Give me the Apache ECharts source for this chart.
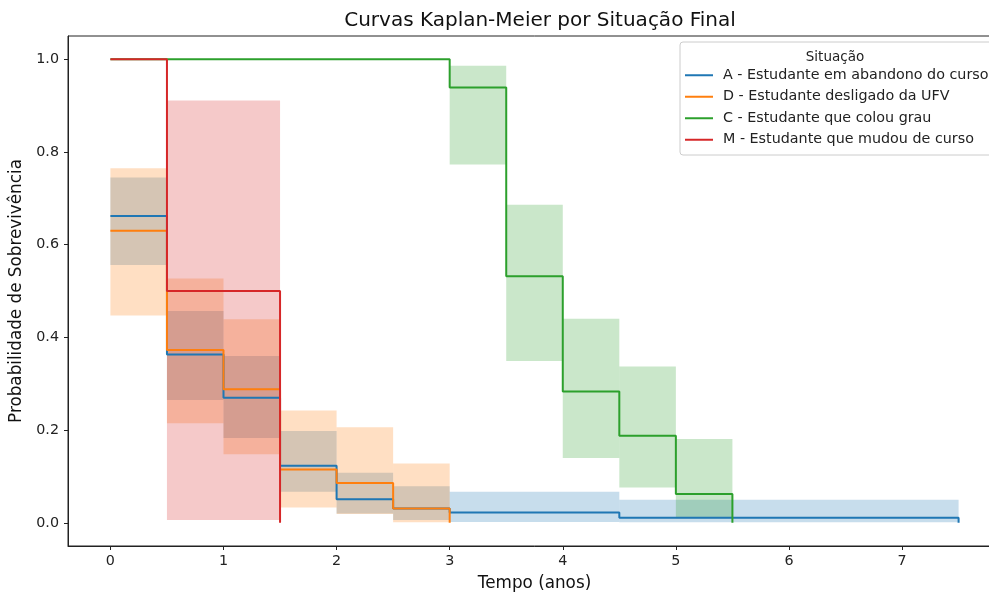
<!DOCTYPE html>
<html><head><meta charset="utf-8">
<script src="https://cdn.jsdelivr.net/npm/echarts@6/dist/echarts.min.js"></script>
<style>html,body{margin:0;padding:0;overflow:hidden;background:#fff}#c{width:1010px;height:593px}</style>
</head><body><div id="c"></div>
<script>
const xTicks = [0,1,2,3,4,5,6,7];
const yTicks = [0,0.2,0.4,0.6,0.8,1.0];
const names = ['A - Estudante em abandono do curso','D - Estudante desligado da UFV','C - Estudante que colou grau','M - Estudante que mudou de curso'];
const colors = ['#1f77b4','#ff7f0e','#2ca02c','#d62728'];
const fills = ['rgba(31,119,180,0.25)','rgba(255,127,14,0.25)','rgba(44,160,44,0.25)','rgba(214,39,40,0.25)'];

// A
const timesA = [0,0.5,1,1.5,2,2.5,3,4.5,7.5];
const survA  = [0.662,0.363,0.270,0.123,0.051,0.031,0.022,0.011,0.000];
const loA    = [0.556,0.265,0.183,0.067,0.020,0.006,0.002,0.001];
const hiA    = [0.745,0.457,0.360,0.198,0.108,0.079,0.067,0.050];
// D
const timesD = [0,0.5,1,1.5,2,2.5,3];
const survD  = [0.630,0.373,0.288,0.115,0.086,0.031,0.000];
const loD    = [0.447,0.215,0.148,0.033,0.019,0.001];
const hiD    = [0.765,0.527,0.439,0.242,0.206,0.128];
// C
const timesC = [0,3,3.5,4,4.5,5,5.5];
const survC  = [1.000,0.939,0.532,0.283,0.188,0.062,0.000];
const loC    = [1.000,0.773,0.349,0.140,0.076,0.010];
const hiC    = [1.000,0.986,0.686,0.440,0.337,0.181];
// M
const timesM = [0,0.5,1.5];
const survM  = [1.000,0.500,0.000];
const loM    = [1.000,0.006];
const hiM    = [1.000,0.911];

const groups = [[timesA,survA,loA,hiA],[timesD,survD,loD,hiD],[timesC,survC,loC,hiC],[timesM,survM,loM,hiM]];

const series = [];
groups.forEach((g,i)=>{
  const [t,s,lo,hi] = g;
  const band = lo.map((l,k)=>[t[k],t[k+1],l,hi[k]]);
  series.push({
    type:'custom', name:'ci'+i, z:1, silent:true,
    data: band,
    encode:{x:[0,1], y:[2,3]},
    renderItem:(params, api)=>{
      const p0 = api.coord([api.value(0), api.value(3)]);
      const p1 = api.coord([api.value(1), api.value(2)]);
      return {type:'rect', shape:{x:p0[0], y:p0[1], width:p1[0]-p0[0], height:p1[1]-p0[1]}, style:{fill:fills[i]}};
    }
  });
});
groups.forEach((g,i)=>{
  const [t,s] = g;
  series.push({
    type:'line', name:names[i], z:2, step:'end', showSymbol:false, symbol:'none',
    data: t.map((x,k)=>[x,s[k]]),
    lineStyle:{color:colors[i], width:2},
    itemStyle:{color:colors[i]},
    animation:false
  });
});

const chart = echarts.init(document.getElementById('c'));
chart.setOption({
  animation:false,
  textStyle:{fontFamily:'DejaVu Sans'},
  title:[
    {text:'Curvas Kaplan-Meier por Situação Final', left:535, top:6, textAlign:'center',
     textStyle:{fontFamily:'DejaVu Sans', fontSize:20, fontWeight:'normal', color:'#111'}},
    {text:'Situação', left:830, top:45, textAlign:'center',
     textStyle:{fontFamily:'DejaVu Sans', fontSize:13.5, fontWeight:'normal', color:'#222'}}
  ],
  grid:{left:68, right:9, top:36, bottom:47, outerBoundsMode:'none', containLabel:false,
        show:true, borderColor:'#222', borderWidth:1, backgroundColor:'transparent'},
  legend:{
    data:names, orient:'vertical', left:680, top:42,
    padding:[25,12,7,5], itemGap:5, itemWidth:28, itemHeight:2, icon:'rect',
    borderColor:'#ccc', borderWidth:1, borderRadius:3, backgroundColor:'rgba(255,255,255,0.8)',
    textStyle:{fontFamily:'DejaVu Sans', fontSize:14.3, color:'#222', lineHeight:16.5, padding:[0,0,0,5]}
  },
  xAxis:{
    type:'value', min:-0.375, max:7.875,
    name:'Tempo (anos)', nameLocation:'middle', nameGap:29,
    nameTextStyle:{fontFamily:'DejaVu Sans', fontSize:16.8, color:'#111'},
    axisLine:{show:true, onZero:false, lineStyle:{color:'#222', width:1}},
    axisTick:{show:true, length:4, lineStyle:{color:'#222'}, customValues:xTicks},
    axisLabel:{fontFamily:'DejaVu Sans', fontSize:14.3, color:'#222', margin:8, customValues:xTicks, formatter:v=>String(v)},
    splitLine:{show:false}
  },
  yAxis:{
    type:'value', min:-0.05, max:1.05,
    name:'Probabilidade de Sobrevivência', nameLocation:'middle', nameGap:39, nameRotate:90,
    nameTextStyle:{fontFamily:'DejaVu Sans', fontSize:16.8, color:'#111'},
    axisLine:{show:true, onZero:false, lineStyle:{color:'#222', width:1}},
    axisTick:{show:true, length:4, lineStyle:{color:'#222'}, customValues:yTicks},
    axisLabel:{fontFamily:'DejaVu Sans', fontSize:14.3, color:'#222', margin:9, customValues:yTicks, formatter:v=>v.toFixed(1)},
    splitLine:{show:false}
  },
  series:series
});
</script></body></html>
